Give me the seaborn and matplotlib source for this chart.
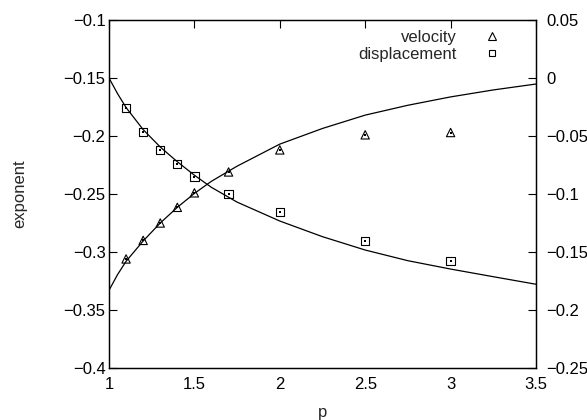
import numpy as np
import pandas as pd
import matplotlib
matplotlib.use("Agg")
import matplotlib.pyplot as plt
from matplotlib.lines import Line2D
from matplotlib.ticker import FuncFormatter, MultipleLocator
import seaborn as sns

sns.set_theme(style="white")
plt.rcParams['font.family'] = ['Liberation Sans', 'DejaVu Sans']
plt.rcParams['font.size'] = 12

p_pts = [1.1, 1.2, 1.3, 1.4, 1.5, 1.7, 2.0, 2.5, 3.0]
velocity = [-0.306, -0.290, -0.275, -0.2615, -0.249, -0.231, -0.212, -0.199, -0.197]
displacement = [-0.176, -0.1965, -0.212, -0.224, -0.235, -0.250, -0.2655, -0.2905, -0.308]

# theory curves, read at a set of p values
p_curve = [1.0, 1.05, 1.1, 1.2, 1.3, 1.4, 1.5, 1.6, 1.75, 2.0, 2.25, 2.5, 2.75, 3.0, 3.25, 3.5]
vel_curve = [-0.333, -0.3195, -0.308, -0.2905, -0.275, -0.2615, -0.2495, -0.239, -0.226,
             -0.207, -0.1935, -0.182, -0.1735, -0.1663, -0.1603, -0.1552]
disp_curve = [-0.150, -0.1635, -0.1755, -0.1945, -0.2095, -0.2222, -0.2338, -0.2443, -0.257,
              -0.2733, -0.2868, -0.2983, -0.3075, -0.3147, -0.3213, -0.3278]

pts = pd.DataFrame({'p': p_pts, 'velocity': velocity, 'displacement': displacement})
curves = pd.DataFrame({'p': p_curve, 'vel': vel_curve, 'disp': disp_curve})

fig = plt.figure(figsize=(5.87, 4.2), dpi=100)
ax = fig.add_axes([0.1857, 0.1238, 0.7274, 0.8286])

sns.lineplot(data=curves, x='p', y='vel', color='black', linewidth=0.9, ax=ax)
sns.lineplot(data=curves, x='p', y='disp', color='black', linewidth=0.9, ax=ax)

sns.scatterplot(data=pts, x='p', y='velocity', marker='^', s=36, facecolors='none',
                edgecolor='black', linewidth=0.8, ax=ax, zorder=3)
sns.scatterplot(data=pts, x='p', y='displacement', marker='s', s=36, facecolors='none',
                edgecolor='black', linewidth=0.8, ax=ax, zorder=3)
# gnuplot style centre dots
for col in ['velocity', 'displacement']:
    sns.scatterplot(data=pts, x='p', y=col, marker='s', s=1.2, color='black',
                    linewidth=0, ax=ax, zorder=4)

fmt = FuncFormatter(lambda v, pos: ('%g' % round(v, 3)).replace('-', '\u2212'))

ax.set_xlim(1, 3.5)
ax.set_ylim(-0.4, -0.1)
ax.xaxis.set_major_locator(MultipleLocator(0.5))
ax.yaxis.set_major_locator(MultipleLocator(0.05))
ax.xaxis.set_major_formatter(fmt)
ax.yaxis.set_major_formatter(fmt)
ax.tick_params(axis='x', direction='in', length=6, width=0.8, top=True, pad=6.5,
               labelsize=12, colors='black')
ax.tick_params(axis='y', direction='in', length=6, width=0.8, right=False, pad=2.5,
               labelsize=12, colors='black')
ax.set_xlabel('p', fontsize=12, labelpad=9)
ax.set_ylabel('exponent', fontsize=12, labelpad=26)

ax2 = ax.twinx()
ax2.set_ylim(-0.25, 0.05)
ax2.yaxis.set_major_locator(MultipleLocator(0.05))
ax2.yaxis.set_major_formatter(fmt)
ax2.tick_params(axis='y', direction='in', length=6, width=0.8, pad=7.5,
                labelsize=12, colors='black')
ax2.grid(False)
ax.grid(False)

for a in (ax, ax2):
    for s in a.spines.values():
        s.set_color('black')
        s.set_linewidth(0.9)

# legend: two single-entry legends so the labels are right-aligned
h_vel = Line2D([], [], marker='^', linestyle='none', markersize=5.5,
               markerfacecolor='none', markeredgecolor='black', markeredgewidth=0.8)
h_disp = Line2D([], [], marker='s', linestyle='none', markersize=5,
                markerfacecolor='none', markeredgecolor='black', markeredgewidth=0.8)
leg_kw = dict(loc='upper right', frameon=False, markerfirst=False, handlelength=2,
              handletextpad=1.1, borderpad=0, borderaxespad=0, fontsize=12)
leg1 = ax2.legend([h_vel], ['velocity'], bbox_to_anchor=(0.935, 0.972), **leg_kw)
ax2.add_artist(leg1)
ax2.legend([h_disp], ['displacement'], bbox_to_anchor=(0.935, 0.923), **leg_kw)

fig.savefig('out.png', dpi=100)
